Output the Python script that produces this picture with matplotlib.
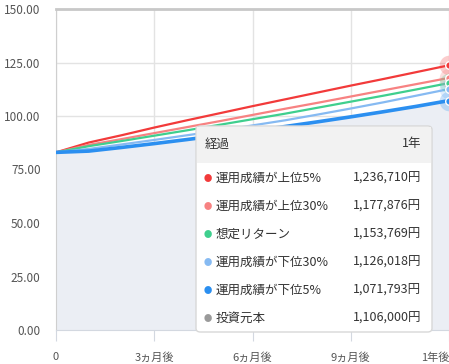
import matplotlib
matplotlib.use("Agg")
import matplotlib.pyplot as plt
from matplotlib.patches import FancyBboxPatch, Rectangle

plt.rcParams['font.family'] = ['Noto Sans CJK JP', 'DejaVu Sans']

# 月数 (0〜12ヵ月)
months = list(range(13))
xtick_pos = [0, 3, 6, 9, 12]
xtick_labels = ['0', '3ヵ月後', '6ヵ月後', '9ヵ月後', '1年後']
ytick_pos = [0, 25, 50, 75, 100, 125, 150]

# 評価額 (万円)
top5 = [83.0, 87.6, 91.0, 94.6, 98.0, 101.3, 104.6, 107.8, 111.0, 114.2, 117.3, 120.5, 123.7]
top30 = [83.0, 86.5, 89.2, 92.0, 94.8, 97.6, 100.5, 103.4, 106.2, 109.1, 112.0, 114.9, 117.8]
expected = [83.0, 85.9, 88.3, 90.8, 93.3, 95.9, 98.5, 101.1, 103.9, 106.7, 109.5, 112.4, 115.4]
low30 = [83.0, 84.6, 86.7, 88.8, 91.0, 93.2, 95.6, 98.0, 100.7, 103.5, 106.4, 109.5, 112.6]
low5 = [83.0, 83.6, 85.3, 87.1, 89.0, 91.0, 93.0, 95.1, 97.3, 99.6, 102.0, 104.5, 107.2]

# ツールチップ
tip_title = '経過'
tip_period = '1年'
tip_names = ['運用成績が上位5%', '運用成績が上位30%', '想定リターン',
             '運用成績が下位30%', '運用成績が下位5%', '投資元本']
tip_values = ['1,236,710円', '1,177,876円', '1,153,769円',
              '1,126,018円', '1,071,793円', '1,106,000円']
tip_colors = ['#f23a3a', '#f78282', '#3fcf8e', '#86baf2', '#2b8ff0', '#9a9a9a']

W, H = 449, 364
fig = plt.figure(figsize=(W / 100, H / 100), dpi=100)
ax = fig.add_axes([56 / W, 1 - 330 / H, (449 - 56) / W, (330 - 9) / H])

ax.fill_between(months, 0, low5, color='#ebeef4', zorder=1, lw=0)

series = [top5, top30, expected, low30, low5]
widths = [1.6, 1.6, 1.6, 1.6, 2.6]
for vals, c, lw in zip(series, tip_colors[:5], widths):
    ax.plot(months, vals, color=c, lw=lw, zorder=3, solid_capstyle='butt')
    ax.scatter([12], [vals[-1]], s=200, color=c, alpha=0.25, lw=0, zorder=4)
    ax.scatter([12], [vals[-1]], s=30, color=c, edgecolor='white', lw=1, zorder=5)

ax.set_xlim(0, 12)
ax.set_ylim(0, 150)
ax.set_xticks(xtick_pos)
ax.set_xticklabels(xtick_labels)
ax.set_yticks(ytick_pos)
ax.set_yticklabels([f'{v:.2f}' for v in ytick_pos])
ax.grid(True, color='#e3e3e3', lw=1)
ax.set_axisbelow(True)
ax.tick_params(axis='x', length=8, color='#d3d8e0', labelsize=8, labelcolor='#555555', pad=8)
ax.tick_params(axis='y', length=0, labelsize=8.5, labelcolor='#555555', pad=11)
for lab in ax.get_xticklabels()[-1:]:
    lab.set_horizontalalignment('right')
ax.spines['right'].set_visible(False)
ax.spines['top'].set_color('#c8c8c8')
ax.spines['top'].set_linewidth(2)
ax.spines['left'].set_color('#cfcfcf')
ax.spines['bottom'].set_color('#d3d8e0')

# tooltip box (pixel coords -> figure fraction)
def fx(px):
    return px / W

def fy(py):
    return 1 - py / H

box = FancyBboxPatch((fx(196), fy(332)), fx(432) - fx(196), fy(126) - fy(332),
                     boxstyle='round,pad=0,rounding_size=0.01', transform=fig.transFigure,
                     facecolor='white', edgecolor='#d8d8d8', lw=1, zorder=10)
fig.patches.append(box)
head = Rectangle((fx(197), fy(163)), fx(431) - fx(197), fy(127) - fy(163),
                 transform=fig.transFigure, facecolor='#f2f2f2', edgecolor='none', zorder=11)
fig.patches.append(head)

fig.text(fx(205), fy(144), tip_title, fontsize=9, color='#333333', va='center', zorder=12)
fig.text(fx(421), fy(144), tip_period, fontsize=9, color='#333333', va='center', ha='right', zorder=12)
row_y = [178, 206, 234, 262, 290, 318]
for name, val, c, py in zip(tip_names, tip_values, tip_colors, row_y):
    fig.text(fx(208), fy(py), '●', fontsize=6, color=c, va='center', ha='center', zorder=12)
    fig.text(fx(216), fy(py), name, fontsize=9, color='#333333', va='center', zorder=12)
    fig.text(fx(421), fy(py), val, fontsize=9, color='#333333', va='center', ha='right', zorder=12)

fig.savefig('out.png', dpi=100)
